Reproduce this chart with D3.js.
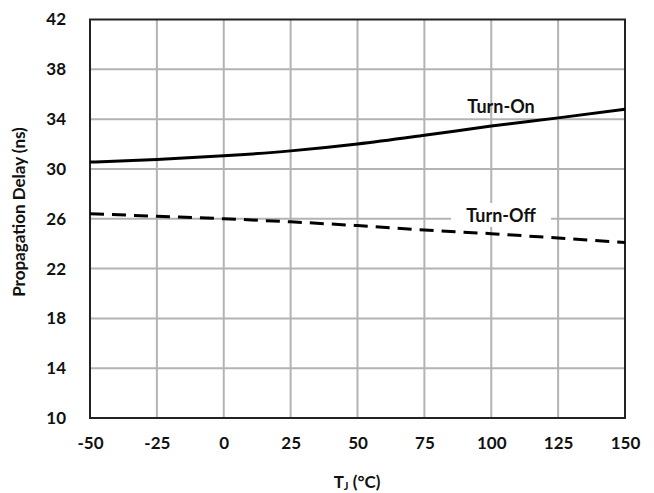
<!DOCTYPE html>
<html>
<head>
<meta charset="utf-8">
<script src="https://cdn.jsdelivr.net/npm/d3@7"></script>
<style>
  html, body { margin: 0; padding: 0; background: #fff; }
  svg text { font-family: Lato, "Open Sans", sans-serif; font-weight: bold; fill: #111; }
</style>
</head>
<body>
<svg id="chart" width="654" height="493"></svg>
<script>
// Junction temperature (°C)
const temps = [-50, -25, 0, 25, 50, 75, 100, 125, 150];
// Propagation delay (ns)
const turnOn  = [30.55, 30.75, 31.05, 31.45, 32.0, 32.7, 33.45, 34.1, 34.8];
const turnOff = [26.4, 26.2, 26.0, 25.75, 25.45, 25.1, 24.8, 24.45, 24.1];
const xTicks = [-50, -25, 0, 25, 50, 75, 100, 125, 150];
const yTicks = [10, 14, 18, 22, 26, 30, 34, 38, 42];

const svg = d3.select("#chart");
const margin = { left: 90, top: 19.5, right: 29, bottom: 75 };
const W = 654, H = 493;
const x = d3.scaleLinear().domain([-50, 150]).range([margin.left, W - margin.right]);
const y = d3.scaleLinear().domain([10, 42]).range([H - margin.bottom, margin.top]);

// grid
svg.append("g").selectAll("line").data(xTicks.slice(1, -1)).join("line")
  .attr("x1", d => x(d)).attr("x2", d => x(d))
  .attr("y1", y(42)).attr("y2", y(10))
  .attr("stroke", "#b3b3b3").attr("stroke-width", 2);
svg.append("g").selectAll("line").data(yTicks.slice(1, -1)).join("line")
  .attr("x1", x(-50)).attr("x2", x(150))
  .attr("y1", d => y(d)).attr("y2", d => y(d))
  .attr("stroke", "#b3b3b3").attr("stroke-width", 2);

// label backing for Turn-Off
svg.append("rect")
  .attr("x", 451).attr("y", 203).attr("width", 100).attr("height", 24)
  .attr("fill", "#fff");

// frame
svg.append("rect")
  .attr("x", x(-50)).attr("y", y(42))
  .attr("width", x(150) - x(-50)).attr("height", y(10) - y(42))
  .attr("fill", "none").attr("stroke", "#222").attr("stroke-width", 2);

// axes
const fmt = d => String(d);
const xAxis = d3.axisBottom(x).tickValues(xTicks).tickSize(0).tickPadding(19).tickFormat(fmt);
const yAxis = d3.axisLeft(y).tickValues(yTicks).tickSize(0).tickPadding(24).tickFormat(fmt);
const gx = svg.append("g").attr("transform", `translate(0,${y(10)})`).call(xAxis);
const gy = svg.append("g").attr("transform", `translate(${x(-50)},0)`).call(yAxis);
[gx, gy].forEach(g => {
  g.select(".domain").remove();
  g.selectAll("text").style("font-size", "17px").attr("fill", "#111");
});
gx.selectAll("text").attr("dy", "0.71em");

// curves
const line = d3.line().curve(d3.curveMonotoneX);
svg.append("path")
  .attr("d", line(temps.map((t, i) => [x(t), y(turnOn[i])])))
  .attr("fill", "none").attr("stroke", "#000").attr("stroke-width", 3);
svg.append("path")
  .attr("d", line(temps.map((t, i) => [x(t), y(turnOff[i])])))
  .attr("fill", "none").attr("stroke", "#000").attr("stroke-width", 3)
  .attr("stroke-dasharray", "14,8");

// series labels
svg.append("text").attr("x", 501).attr("y", 113).attr("text-anchor", "middle")
  .style("font-size", "18px").text("Turn-On");
svg.append("text").attr("x", 501).attr("y", 222).attr("text-anchor", "middle")
  .style("font-size", "18px").text("Turn-Off");

// axis titles
svg.append("text")
  .attr("transform", "translate(25,212) rotate(-90)")
  .attr("text-anchor", "middle")
  .style("font-size", "17px")
  .text("Propagation Delay (ns)");
const xt = svg.append("text").attr("x", 357).attr("y", 488).attr("text-anchor", "middle")
  .style("font-size", "17px");
xt.append("tspan").text("T");
xt.append("tspan").attr("dy", 2).style("font-size", "11px").text("J");
xt.append("tspan").attr("dy", -2).text(" (°C)");
</script>
</body>
</html>
